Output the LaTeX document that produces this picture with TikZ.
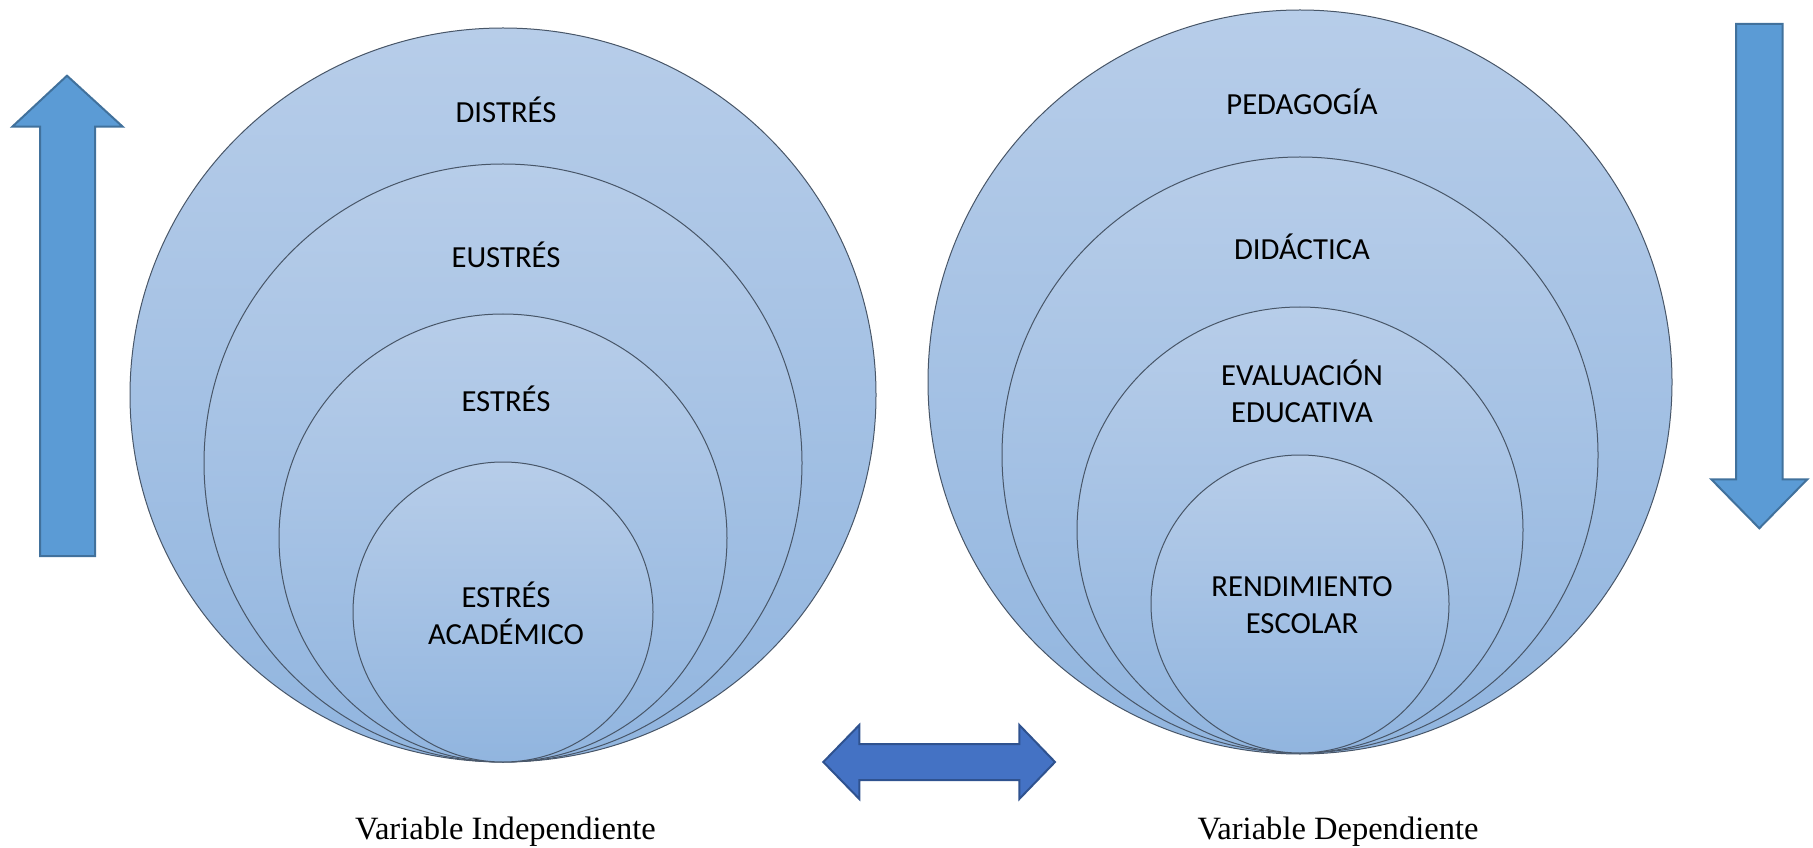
\documentclass[tikz,border=0pt]{standalone}
\usepackage{fontspec}
\setmainfont{Liberation Serif}
\newfontfamily\shapefont{Carlito}
\usepackage{tikz}
\usetikzlibrary{shapes}

\definecolor{ringtop}{RGB}{183,205,233}
\definecolor{ringbottom}{RGB}{145,181,223}
\definecolor{ringline}{RGB}{72,86,104}
\definecolor{vertfill}{RGB}{91,155,213}
\definecolor{vertline}{RGB}{65,113,156}
\definecolor{horifill}{RGB}{68,114,196}
\definecolor{horiline}{RGB}{47,82,143}

\tikzset{
  ring/.style={draw=ringline, line width=0.75, top color=ringtop, bottom color=ringbottom},
  vertarrow/.style={draw=vertline, fill=vertfill, line width=1.5, line join=miter},
  horiarrow/.style={draw=horiline, fill=horifill, line width=1.5, line join=miter},
  ringtext/.style={font=\shapefont\fontsize{23}{27.5}\selectfont, align=center, inner sep=0},
  captext/.style={font=\fontsize{24.4}{28}\selectfont, inner sep=0, anchor=base}
}

\begin{document}
\begin{tikzpicture}[x=0.75pt,y=0.75pt,yscale=-1,xscale=1]
\useasboundingbox (0,0) rectangle (1813,848);

%Shape: Up Arrow
\draw[vertarrow] (67,75.7) -- (122.7,126.7) -- (95,126.7) -- (95,556) -- (40,556) -- (40,126.7) -- (12.3,126.7) -- cycle ;
%Shape: Down Arrow
\draw[vertarrow] (1736,24) -- (1782.7,24) -- (1782.7,479.3) -- (1807.3,479.3) -- (1759.3,528.3) -- (1711.3,479.3) -- (1736,479.3) -- cycle ;
%Shape: Left Right Arrow
\draw[horiarrow] (823.3,762) -- (859.3,725) -- (859.3,744) -- (1019.3,744) -- (1019.3,725) -- (1055,762) -- (1019.3,799) -- (1019.3,780) -- (859.3,780) -- (859.3,799) -- cycle ;

%Shape: Circles, left group
\draw[ring] (503,395) ellipse (373 and 367) ;
\draw[ring] (503,463) circle (299) ;
\draw[ring] (503,538) circle (224) ;
\draw[ring] (503,612) circle (150) ;
%Shape: Circles, right group
\draw[ring] (1300,382) circle (372) ;
\draw[ring] (1300,455) circle (298) ;
\draw[ring] (1300,530) circle (223) ;
\draw[ring] (1300,604) circle (149) ;

% labels inside the circles
\node[ringtext] (distres) at (506,110) {DISTRÉS};
\node[ringtext] (eustres) at (506,255) {EUSTRÉS};
\node[ringtext] (estres) at (506,399) {ESTRÉS};
\node[ringtext] (academico) at (506,613) {ESTRÉS\\ACADÉMICO};
\node[ringtext] (pedagogia) at (1302,102) {PEDAGOGÍA};
\node[ringtext] (didactica) at (1302,247) {DIDÁCTICA};
\node[ringtext] (evaluacion) at (1302,391) {EVALUACIÓN\\EDUCATIVA};
\node[ringtext] (rendimiento) at (1302,605) {RENDIMIENTO\\ESCOLAR};

% captions
\node[captext] (indep) at (505.5,839.5) {Variable Independiente};
\node[captext] (dep) at (1338,839.5) {Variable Dependiente};
\end{tikzpicture}
\end{document}
